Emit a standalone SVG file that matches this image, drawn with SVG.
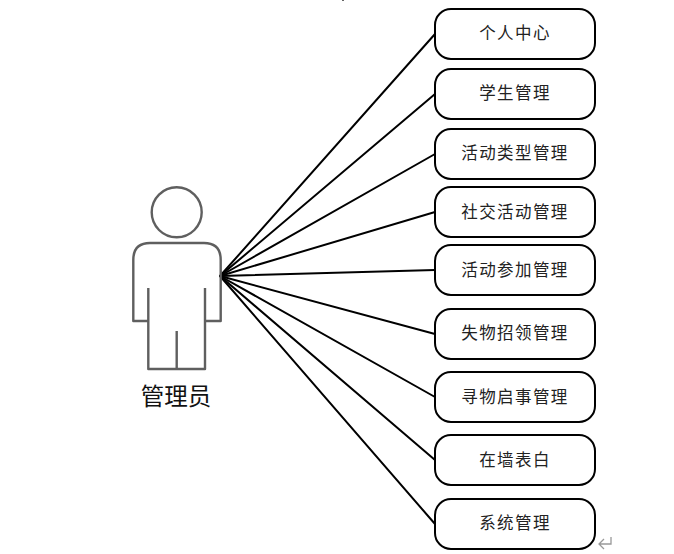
<svg xmlns="http://www.w3.org/2000/svg" width="674" height="554" viewBox="0 0 674 554">
<style>
.bx{fill:#fff;stroke:#000;stroke-width:2}
.c line{stroke:#000;stroke-width:2;stroke-linecap:round}
.t{font-family:"Noto Sans CJK SC","Liberation Sans",sans-serif;font-size:16.5px;letter-spacing:1.4px;text-anchor:middle;fill:#222;font-weight:400}
.a{fill:none;stroke:#5f5f5f;stroke-width:2.4;stroke-linejoin:round}
</style>
<rect width="674" height="554" fill="#fff"/>
<g class="c" id="connectors">
<line x1="220" y1="276" x2="435" y2="34"/>
<line x1="220" y1="276" x2="435" y2="94"/>
<line x1="220" y1="276" x2="435" y2="154"/>
<line x1="220" y1="276" x2="435" y2="212"/>
<line x1="220" y1="276" x2="435" y2="270"/>
<line x1="220" y1="276" x2="435" y2="334"/>
<line x1="220" y1="276" x2="435" y2="397"/>
<line x1="220" y1="276" x2="435" y2="460"/>
<line x1="220" y1="276" x2="435" y2="524"/>
</g>
<g id="actor">
<circle class="a" cx="176.7" cy="212.3" r="25"/>
<path class="a" d="M148.3 288V321H133.3V260Q133.3 243 150 243H204Q220.7 243 220.7 260V321H205V288M148.3 321V369H205V321M176.7 331V369"/>
<text x="176" y="405" font-family="'Noto Sans CJK SC','Liberation Sans',sans-serif" font-size="23.5" text-anchor="middle" fill="#111">管理员</text>
</g>
<g id="n1"><rect class="bx" x="435" y="9" width="160" height="50" rx="16"/><text class="t" x="515" y="39">个人中心</text></g>
<g id="n2"><rect class="bx" x="435" y="69" width="160" height="50" rx="16"/><text class="t" x="515" y="99">学生管理</text></g>
<g id="n3"><rect class="bx" x="435" y="129" width="160" height="50" rx="16"/><text class="t" x="515" y="159">活动类型管理</text></g>
<g id="n4"><rect class="bx" x="435" y="187" width="160" height="50" rx="16"/><text class="t" x="515" y="218">社交活动管理</text></g>
<g id="n5"><rect class="bx" x="435" y="245" width="160" height="50" rx="16"/><text class="t" x="515" y="276">活动参加管理</text></g>
<g id="n6"><rect class="bx" x="435" y="309" width="160" height="50" rx="16"/><text class="t" x="515" y="339">失物招领管理</text></g>
<g id="n7"><rect class="bx" x="435" y="372" width="160" height="50" rx="16"/><text class="t" x="515" y="403">寻物启事管理</text></g>
<g id="n8"><rect class="bx" x="435" y="435" width="160" height="50" rx="16"/><text class="t" x="515" y="466">在墙表白</text></g>
<g id="n9"><rect class="bx" x="435" y="499" width="160" height="50" rx="16"/><text class="t" x="515" y="529">系统管理</text></g>
<path d="M611 537V544H599M604 539L599 544L604 549" fill="none" stroke="#999" stroke-width="1.3"/>
<rect x="342" y="0" width="2" height="1" fill="#666"/>
</svg>
